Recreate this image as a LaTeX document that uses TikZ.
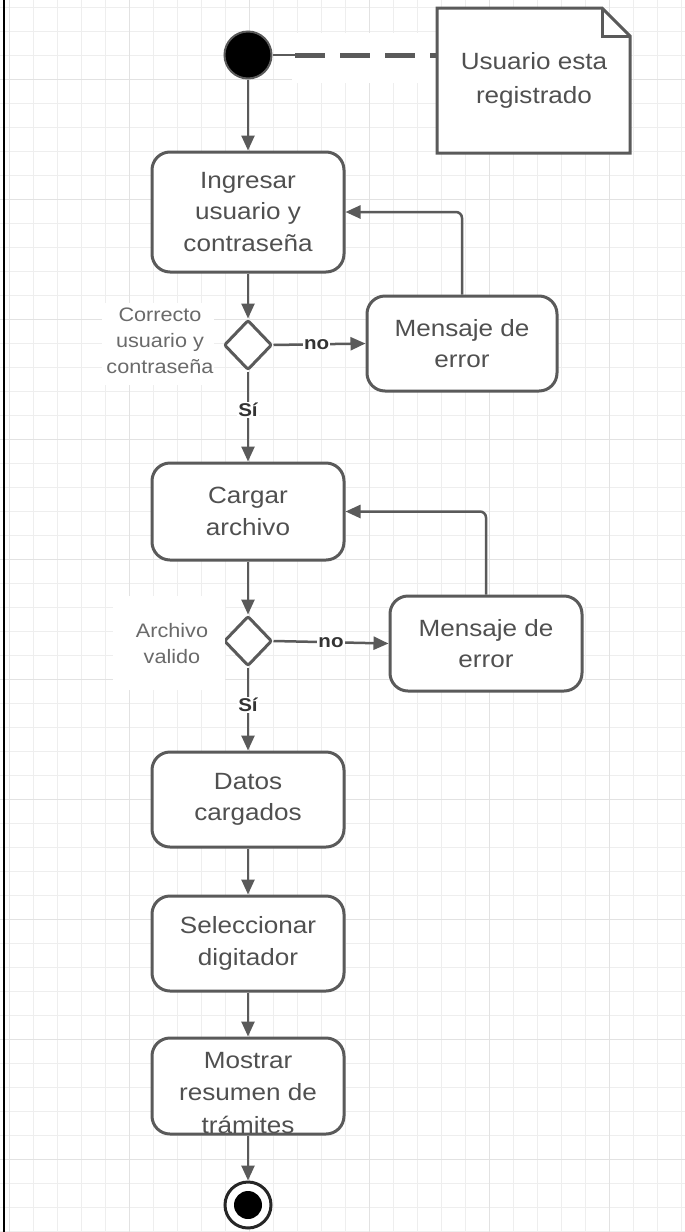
\documentclass[tikz,border=0pt]{standalone}
\usepackage{fontspec}
\setmainfont{Liberation Sans}[FakeStretch=1.11]
\usetikzlibrary{shapes.geometric,arrows.meta}
\definecolor{ink}{HTML}{5A5A5A}
\definecolor{txt}{HTML}{505050}
\definecolor{soft}{HTML}{6A6A6A}
\definecolor{dark}{HTML}{333333}
\definecolor{gridminor}{HTML}{EEEEEE}
\definecolor{gridmajor}{HTML}{E2E2E2}
\tikzset{
  activity/.style={draw=ink, line width=3pt, fill=white, rounded corners=18pt,
    minimum width=192pt, inner sep=0pt, align=center, text=txt,
    font=\fontsize{23.5}{31.5}\selectfont},
  decision/.style={draw=ink, line width=3pt, fill=white, diamond, rounded corners=2pt,
    minimum width=48pt, minimum height=50pt, inner sep=0pt},
  flow/.style={draw=ink, line width=2.5pt, -{Triangle[length=15pt,width=13pt]}},
  guard/.style={fill=white, inner sep=1pt, text=dark,
    font=\fontsize{18.5}{20}\selectfont\bfseries},
  cond/.style={fill=white, align=center, text=soft, inner sep=0pt,
    font=\fontsize{19.5}{26}\selectfont},
}
\begin{document}
\begin{tikzpicture}[x=1pt,y=-1pt]
\useasboundingbox (0,0) rectangle (685,1232);
\fill[white] (0,0) rectangle (685,1232);
% background grid
\foreach \x in {9,33,...,681} \draw[gridminor, line width=1pt] (\x,0) -- (\x,1232);
\foreach \y in {7,31,...,1231} \draw[gridminor, line width=1pt] (0,\y) -- (685,\y);
\foreach \x in {9,129,...,681} \draw[gridmajor, line width=1pt] (\x,0) -- (\x,1232);
\foreach \y in {79,199,...,1231} \draw[gridmajor, line width=1pt] (0,\y) -- (685,\y);
\draw[black, line width=2.5pt] (4,0) -- (4,1232);

% initial state and note
\node[circle, fill=black, draw=ink, line width=2pt, minimum size=47pt, inner sep=0pt] (start) at (248,55) {};
\fill[white] (292,33) rectangle (437,83);
\draw[ink, line width=3pt, fill=white, line join=miter]
  (437,8) -- (602,8) -- (630,36) -- (630,153) -- (437,153) -- cycle;
\draw[ink, line width=3pt] (602,8) -- (602,36) -- (630,36);
\node[text=txt, align=center, font=\fontsize{23.5}{34}\selectfont] (notetext) at (534,80) {Usuario esta\\registrado};
\coordinate (noteL) at (437,55);
\coordinate (dashA) at (295,55);
\draw[ink, line width=2pt] (start.east) -- (dashA);
\draw[ink, line width=5pt, dash pattern=on 30pt off 15pt] (dashA) -- (noteL);

% activities
\node[activity, minimum height=120pt] (login) at (248,212) {Ingresar\\usuario y\\contraseña};
\node[decision] (d1) at (248,345) {};
\node[activity, minimum width=190pt, minimum height=95pt] (err1) at (462,343.5) {Mensaje de\\error};
\node[activity, minimum height=97pt] (load) at (248,511.5) {Cargar\\archivo};
\node[decision] (d2) at (248,641) {};
\node[activity, minimum height=95pt] (err2) at (486,643.5) {Mensaje de\\error};
\node[activity, minimum height=95pt] (data) at (248,799.5) {Datos\\cargados};
\node[activity, minimum height=95pt] (pick) at (248,943.5) {Seleccionar\\digitador};
\node[activity, minimum height=96pt] (summary) at (248,1086) {};
\node[text=txt, align=center, font=\fontsize{23.5}{32.5}\selectfont] (summarytext) at (248,1093) {Mostrar\\resumen de\\trámites};

% final state
\node[circle, draw=black!85, line width=3pt, fill=white, minimum size=46pt, inner sep=0pt] (final) at (248,1205) {};
\fill[black] (final.center) circle (14pt);

% condition notes
\fill[white] (102,303) rectangle (213,385);
\node[cond] (c1) at (160,341) {Correcto\\usuario y\\contraseña};
\fill[white] (113,596) rectangle (225,690);
\node[cond] (c2) at (172,644) {Archivo\\valido};

% control flow
\draw[flow] (start.south) -- (login.north);
\draw[flow] (login.south) -- (d1.north);
\draw[flow] (d1.east) -- node[guard, pos=0.47] {no} (err1.west);
\draw[flow, rounded corners=6pt] (err1.north) |- (login.east);
\draw[flow] (d1.south) -- node[guard, pos=0.43] {Sí} (load.north);
\draw[flow] (load.south) -- (d2.north);
\draw[flow] (d2.east) -- node[guard, pos=0.5] {no} (err2.west);
\draw[flow, rounded corners=6pt] (err2.north) |- (load.east);
\draw[flow] (d2.south) -- node[guard, pos=0.45] {Sí} (data.north);
\draw[flow] (data.south) -- (pick.north);
\draw[flow] (pick.south) -- (summary.north);
\draw[flow] (summary.south) -- (final.north);
\end{tikzpicture}
\end{document}
